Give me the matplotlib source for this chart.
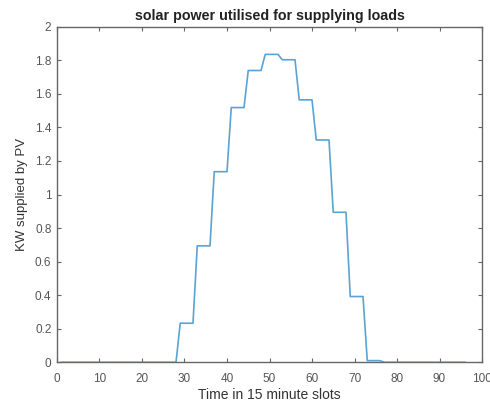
import numpy as np
import matplotlib.pyplot as plt

plt.rcParams['font.family'] = ['Liberation Sans', 'DejaVu Sans']

# hourly PV output (kW), each hour held for 4 slots of 15 minutes
hours = list(range(24))
hourly_kw = [0, 0, 0, 0, 0, 0, 0, 0.233, 0.694, 1.136, 1.518, 1.739,
             1.835, 1.803, 1.564, 1.325, 0.894, 0.392, 0.01, 0, 0, 0, 0, 0]

slots = np.arange(1, 97)
pv = np.repeat(hourly_kw, 4)

fig = plt.figure(figsize=(4.9, 4.07), dpi=100)
ax = fig.add_axes([0.1163, 0.1098, 0.8674, 0.8246])

ax.plot(slots, pv, color='#5aa3d4', linewidth=1.2)

ax.set_xlim(0, 100)
ax.set_ylim(0, 2)
ax.set_xticks(range(0, 101, 10))
ax.set_yticks(np.arange(0, 2.01, 0.2))
ax.set_yticklabels(['0', '0.2', '0.4', '0.6', '0.8', '1', '1.2', '1.4', '1.6', '1.8', '2'])

axis_col = '#666666'
for s in ax.spines.values():
    s.set_color(axis_col)
    s.set_linewidth(1.0)
ax.tick_params(direction='in', top=True, right=True, length=3, width=0.8,
               colors=axis_col, labelsize=8.5, labelcolor='#555555', pad=4)
ax.tick_params(axis='x', pad=8)

ax.set_xlabel('Time in 15 minute slots', fontsize=10, color='#333333', labelpad=2)
ax.set_ylabel('KW supplied by PV', fontsize=9.5, color='#333333', labelpad=5)
ax.set_title('solar power utilised for supplying loads', fontsize=10.3,
             fontweight='bold', color='#222222', pad=5)

fig.savefig('out.png', dpi=100)
